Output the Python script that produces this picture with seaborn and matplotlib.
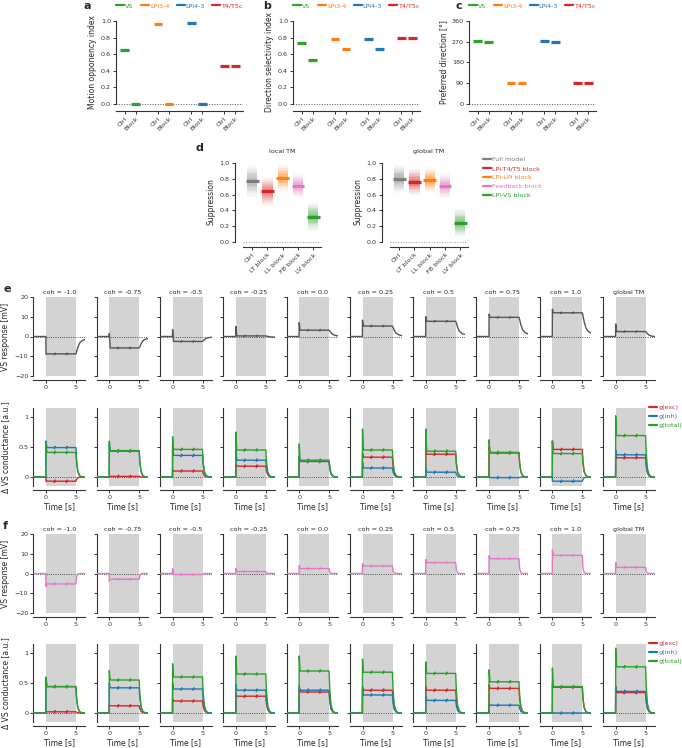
import numpy as np
import pandas as pd
import matplotlib
matplotlib.use("Agg")
import matplotlib.pyplot as plt
from matplotlib.lines import Line2D
import seaborn as sns

W, H = 682, 748

# ---------------- panels a-c: model cell indices
groups = ["VS", "LPi3-4", "LPi4-3", "T4/T5c"]
group_colors = ["#2ca02c", "#ff7f0e", "#1f77b4", "#d62728"]
conditions = ["Ctrl", "Block"]
opponency_ctrl = [0.65, 0.96, 0.98, 0.46]
opponency_block = [0.0, 0.0, 0.0, 0.46]
dsi_ctrl = [0.74, 0.78, 0.78, 0.79]
dsi_block = [0.53, 0.66, 0.66, 0.80]
pref_ctrl = [272, 92, 272, 92]
pref_block = [270, 90, 270, 90]

# ---------------- panel d: suppression per model variant
models = ["Ctrl", "LT block", "LL block", "FB block", "LV block"]
model_labels = ["Full model", "LPi-T4/T5 block", "LPi-LPi block", "Feedback block", "LPi-VS block"]
model_colors = ["#7f7f7f", "#d62728", "#ff7f0e", "#e377c2", "#2ca02c"]
local_mean = [0.77, 0.64, 0.81, 0.71, 0.32]
local_lo = [0.57, 0.46, 0.65, 0.58, 0.14]
local_hi = [0.97, 0.81, 0.98, 0.86, 0.48]
global_mean = [0.80, 0.76, 0.78, 0.71, 0.24]
global_lo = [0.62, 0.60, 0.63, 0.57, 0.07]
global_hi = [0.96, 0.92, 0.93, 0.86, 0.41]

# ---------------- panels e-f: traces (onset peak, plateau, value at 6.5 s)
coh_titles = ["coh = -1.0", "coh = -0.75", "coh = -0.5", "coh = -0.25", "coh = 0.0",
              "coh = 0.25", "coh = 0.5", "coh = 0.75", "coh = 1.0", "global TM"]

vs_e_peak = [-9.0, 1.5, 3.5, 5.0, 7.0, 8.3, 10.0, 11.3, 13.8, 6.3]
vs_e_plat = [-8.8, -5.8, -2.5, 0.3, 3.2, 5.3, 7.7, 9.7, 12.0, 2.5]
vs_e_tail = [-1.5, -1.0, -0.4, -0.3, 0.3, 0.5, 1.0, 1.3, 1.7, 0.0]

exc_e_peak = [-0.07, 0.01, 0.12, 0.22, 0.30, 0.40, 0.45, 0.50, 0.60, 0.40]
exc_e_plat = [-0.07, 0.01, 0.10, 0.18, 0.26, 0.33, 0.38, 0.40, 0.46, 0.32]
inh_e_peak = [0.60, 0.55, 0.50, 0.45, 0.35, 0.25, 0.15, 0.02, -0.07, 0.45]
inh_e_plat = [0.49, 0.43, 0.36, 0.28, 0.26, 0.15, 0.08, -0.01, -0.07, 0.37]
tot_e_peak = [0.55, 0.60, 0.67, 0.75, 0.55, 0.80, 0.80, 0.62, 0.60, 1.02]
tot_e_plat = [0.41, 0.44, 0.46, 0.45, 0.28, 0.45, 0.43, 0.41, 0.39, 0.69]

vs_f_peak = [-6.5, -4.0, 2.4, 2.5, 4.0, 5.0, 7.0, 9.0, 12.0, 5.6]
vs_f_plat = [-5.3, -2.9, -0.5, 1.0, 2.5, 3.8, 5.5, 7.5, 9.2, 3.1]

exc_f_peak = [0.02, 0.14, 0.23, 0.32, 0.40, 0.44, 0.44, 0.47, 0.50, 0.40]
exc_f_plat = [0.02, 0.12, 0.20, 0.28, 0.35, 0.38, 0.38, 0.41, 0.43, 0.34]
inh_f_peak = [0.55, 0.50, 0.50, 0.48, 0.46, 0.38, 0.28, 0.16, 0.02, 0.45]
inh_f_plat = [0.44, 0.42, 0.40, 0.38, 0.38, 0.30, 0.21, 0.13, 0.00, 0.36]
tot_f_peak = [0.60, 0.71, 0.82, 0.95, 0.95, 0.90, 0.85, 0.72, 0.75, 1.08]
tot_f_plat = [0.44, 0.55, 0.60, 0.65, 0.70, 0.68, 0.66, 0.52, 0.44, 0.77]

t_on = [-2.0, -0.02, 0.0, 0.15, 1.3, 1.42, 1.52, 1.62, 3.3, 3.42, 3.52, 3.62, 4.98]
t_off = [5.1, 5.3, 5.6, 6.0, 6.5]
decay_vs = [0.85, 0.55, 0.25, 0.08, 0.0]
decay_pink = [0.3, 0.05, 0.0, 0.0, 0.0]
decay_g = [0.55, 0.2, 0.05, 0.0, 0.0]


def trace(peak, plat, tail, wig, decay):
    vals = [0, 0, peak, plat, plat, plat - wig, plat + wig, plat,
            plat, plat - wig, plat + wig, plat, plat]
    vals += [tail + (plat - tail) * f for f in decay]
    return vals


sns.set_theme(style="ticks")
FS = 4.6
plt.rcParams.update({
    "font.family": ["DejaVu Sans"],
    "axes.edgecolor": "#333333",
    "axes.linewidth": 0.8,
    "xtick.color": "#333333",
    "ytick.color": "#333333",
    "xtick.major.size": 2.2,
    "ytick.major.size": 2.2,
    "xtick.major.width": 0.7,
    "ytick.major.width": 0.7,
    "xtick.major.pad": 1.5,
    "ytick.major.pad": 1.5,
    "xtick.labelsize": FS,
    "ytick.labelsize": FS,
    "axes.labelsize": 5.5,
    "axes.labelpad": 2.5,
})

fig = plt.figure(figsize=(W / 100, H / 100), dpi=100)


def add_ax(left, top, width, height):
    return fig.add_axes([left / W, 1 - (top + height) / H, width / W, height / H])


def small_legend(handles_colors, labels, **kw):
    hs = [Line2D([], [], color=c, lw=1.6) for c in handles_colors]
    return dict(handles=hs, labels=labels, frameon=False, fontsize=FS,
                handlelength=1.3, handletextpad=0.15, labelcolor="linecolor",
                borderpad=0, borderaxespad=0, **kw)


def rotate_xlabels(ax, labels):
    ax.set_xticklabels(labels)
    for lab in ax.get_xticklabels():
        lab.set_rotation(45)
        lab.set_ha("right")
        lab.set_rotation_mode("anchor")


# ---------------- a, b, c
xs = [0, 1, 3, 4, 6, 7, 9, 10]
panels_abc = [
    (116, opponency_ctrl, opponency_block, 1.0, [0, 0.2, 0.4, 0.6, 0.8, 1.0],
     "Motion opponency index", "a", 84),
    (293, dsi_ctrl, dsi_block, 1.0, [0, 0.2, 0.4, 0.6, 0.8, 1.0],
     "Direction selectivity index", "b", 263),
    (469, pref_ctrl, pref_block, 360, [0, 90, 180, 270, 360],
     "Preferred direction [°]", "c", 455),
]
for left, ctrl, block, top_val, yt, ylab, letter, lx in panels_abc:
    ax = add_ax(left, 18.5, 127, 88)
    for i, c in enumerate(group_colors):
        ax.hlines(ctrl[i], xs[2 * i] - 0.4, xs[2 * i] + 0.4, color=c, lw=2.3)
        ax.hlines(block[i], xs[2 * i + 1] - 0.4, xs[2 * i + 1] + 0.4, color=c, lw=2.3)
    ax.axhline(0, color="#555555", ls=":", lw=0.7, zorder=0)
    sns.despine(ax=ax)
    ax.spines["bottom"].set_position(("outward", 3))
    ax.spines["left"].set_bounds(0, top_val)
    ax.set_xlim(-0.8, 10.7)
    ax.set_ylim(-0.03 * top_val, 1.03 * top_val)
    ax.set_yticks(yt)
    if top_val == 1.0:
        ax.set_yticklabels([f"{v:.1f}" for v in yt])
    ax.set_xticks(xs)
    rotate_xlabels(ax, conditions * 4)
    ax.set_ylabel(ylab)
    ax.legend(**small_legend(group_colors, groups, loc="center", ncol=4,
                             columnspacing=1.1,
                             bbox_to_anchor=(0.5, 1 + (18.5 - 6) / 88)))
    fig.text(lx / W, 1 - 6 / H, letter, fontsize=8, fontweight="bold", va="center")

# ---------------- d
for left, title, mean, lo, hi in [(243, "local TM", local_mean, local_lo, local_hi),
                                  (390, "global TM", global_mean, global_lo, global_hi)]:
    ax = add_ax(left, 159, 78, 84.5)
    for i, c in enumerate(model_colors):
        ys = np.linspace(lo[i], hi[i], 70)
        spread = (hi[i] - lo[i]) / 3.5
        alpha = 0.18 * np.exp(-((ys - mean[i]) / spread) ** 2)
        rgba = [matplotlib.colors.to_rgba(c, a) for a in alpha]
        ax.hlines(ys, i - 0.33, i + 0.33, colors=rgba, lw=1.2)
        ax.hlines(mean[i], i - 0.42, i + 0.42, color=c, lw=2.3)
    ax.axhline(0, color="#999999", ls=":", lw=0.7, zorder=0)
    sns.despine(ax=ax)
    ax.spines["bottom"].set_position(("outward", 2.5))
    ax.spines["left"].set_position(("outward", 6))
    ax.spines["left"].set_bounds(0, 1)
    ax.set_xlim(-0.6, 4.5)
    ax.set_ylim(-0.02, 1.05)
    ax.set_yticks([0, 0.2, 0.4, 0.6, 0.8, 1.0])
    ax.set_yticklabels(["0.0", "0.2", "0.4", "0.6", "0.8", "1.0"])
    ax.set_xticks(range(5))
    rotate_xlabels(ax, models)
    ax.set_ylabel("Suppression")
    ax.set_title(title, fontsize=FS, pad=4.5)
fig.text(195 / W, 1 - 148 / H, "d", fontsize=8, fontweight="bold", va="center")
fig.legend(**small_legend(model_colors, model_labels, loc="upper left",
                          labelspacing=0.55,
                          bbox_to_anchor=(483 / W, 1 - 157 / H)))

# ---------------- e, f
t_all = t_on + t_off
col_left = [33.4 + 63.3 * i for i in range(10)]
rows = [
    dict(top=297, kind="vs", peak=vs_e_peak, plat=vs_e_plat, tail=vs_e_tail,
         color="#555555", decay=decay_vs, letter="e"),
    dict(top=408, kind="g", exc=(exc_e_peak, exc_e_plat), inh=(inh_e_peak, inh_e_plat),
         tot=(tot_e_peak, tot_e_plat)),
    dict(top=534, kind="vs", peak=vs_f_peak, plat=vs_f_plat, tail=[0.0] * 10,
         color="#e377c2", decay=decay_pink, letter="f"),
    dict(top=644, kind="g", exc=(exc_f_peak, exc_f_plat), inh=(inh_f_peak, inh_f_plat),
         tot=(tot_f_peak, tot_f_plat)),
]
g_colors = {"exc": "#d62728", "inh": "#1f77b4", "tot": "#2ca02c"}

for row in rows:
    h = 79 if row["kind"] == "vs" else 78
    for j in range(10):
        ax = add_ax(col_left[j], row["top"], 51.6, h)
        sns.despine(ax=ax)
        ax.spines["bottom"].set_position(("outward", 3))
        ax.axvspan(0, 5, color="#d3d3d3", lw=0, zorder=0)
        ax.axhline(0, color="#222222", ls=":", lw=0.6, zorder=1)
        if row["kind"] == "vs":
            vals = trace(row["peak"][j], row["plat"][j], row["tail"][j], 0.4, row["decay"])
            sns.lineplot(x=t_all, y=vals, ax=ax, color=row["color"], lw=1.0,
                         estimator=None, sort=False, zorder=3)
            ax.set_ylim(-20, 20)
            ax.set_yticks([-20, -10, 0, 10, 20])
            ax.set_title(coh_titles[j], fontsize=FS, pad=2.5)
            if j == 0:
                ax.set_ylabel("VS response [mV]")
        else:
            for key in ["exc", "inh", "tot"]:
                pk, pl = row[key]
                vals = trace(pk[j], pl[j], 0.0, 0.02, decay_g)
                sns.lineplot(x=t_all, y=vals, ax=ax, color=g_colors[key], lw=1.0,
                             estimator=None, sort=False, zorder=3)
            ax.set_ylim(-0.15, 1.15)
            ax.set_yticks([0, 0.5, 1])
            ax.set_yticklabels(["0", "0.5", "1"])
            ax.set_xlabel("Time [s]", labelpad=1)
            if j == 0:
                ax.set_ylabel("Δ VS conductance [a.u.]")
        if j == 0:
            ax.yaxis.set_label_coords((10 - col_left[0]) / 51.6, 0.5)
        ax.set_xlim(-2.1, 6.5)
        ax.set_xticks([0, 5])
        if j > 0:
            ax.set_yticklabels([])
    if row["kind"] == "vs":
        fig.text(3 / W, 1 - (row["top"] - 8) / H, row["letter"], fontsize=8,
                 fontweight="bold", va="center")
    else:
        fig.legend(**small_legend(list(g_colors.values()), ["g(exc)", "g(inh)", "g(total)"],
                                  loc="upper left", labelspacing=0.55,
                                  bbox_to_anchor=(649 / W, 1 - (row["top"] - 3) / H)))

fig.savefig("out.png", dpi=100)
